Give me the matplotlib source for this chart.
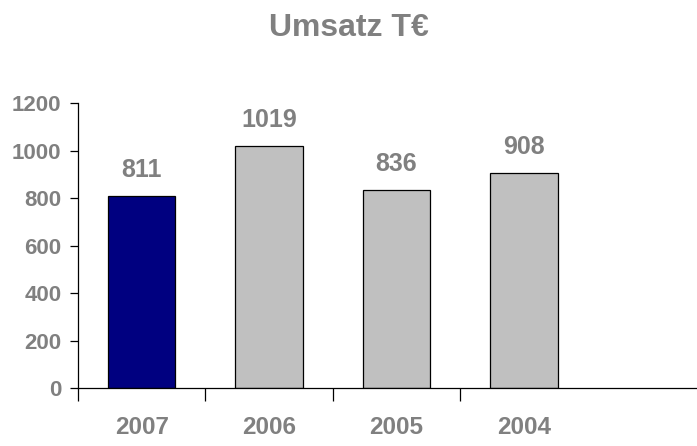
import matplotlib
matplotlib.use("Agg")
import matplotlib.pyplot as plt

plt.rcParams['font.family'] = ['Liberation Sans', 'DejaVu Sans']

# Data
years = ['2007', '2006', '2005', '2004']
umsatz = [811, 1019, 836, 908]
bar_colors = ['#000080', '#C0C0C0', '#C0C0C0', '#C0C0C0']
text_gray = '#808080'

fig = plt.figure(figsize=(6.97, 4.46), dpi=100)
ax = fig.add_axes([78 / 697, 57.7 / 446, 1 - 78 / 697, 285 / 446])

x = list(range(len(years)))
bars = ax.bar(x, umsatz, width=0.53, color=bar_colors, edgecolor='black', linewidth=0.9)

# value labels
for xi, v in zip(x, umsatz):
    ax.annotate(str(v), (xi, v), xytext=(0, 10), textcoords='offset points',
                ha='center', va='bottom', fontsize=18, fontweight='bold', color=text_gray)

ax.set_ylim(0, 1200)
ax.set_xlim(-0.5, 4.36)
ax.set_yticks(range(0, 1201, 200))
ax.tick_params(axis='y', direction='out', length=6, width=0.9, pad=6,
               labelsize=16, labelcolor=text_gray)
for lbl in ax.get_yticklabels():
    lbl.set_fontweight('bold')

# category boundaries as major ticks, names on minor ticks
ax.set_xticks([-0.5, 0.5, 1.5, 2.5])
ax.set_xticklabels([])
ax.set_xticks(x, minor=True)
ax.set_xticklabels(years, minor=True, fontsize=17.5, fontweight='bold', color=text_gray)
ax.tick_params(axis='x', which='major', direction='out', length=9, width=0.9)
ax.tick_params(axis='x', which='minor', length=0, pad=20)

for side in ['top', 'right']:
    ax.spines[side].set_visible(False)
for side in ['left', 'bottom']:
    ax.spines[side].set_linewidth(0.9)

fig.text(0.5, 1 - 36 / 446, 'Umsatz T€', ha='center', va='baseline',
         fontsize=23, fontweight='bold', color=text_gray)

fig.savefig('out.png', dpi=100)
